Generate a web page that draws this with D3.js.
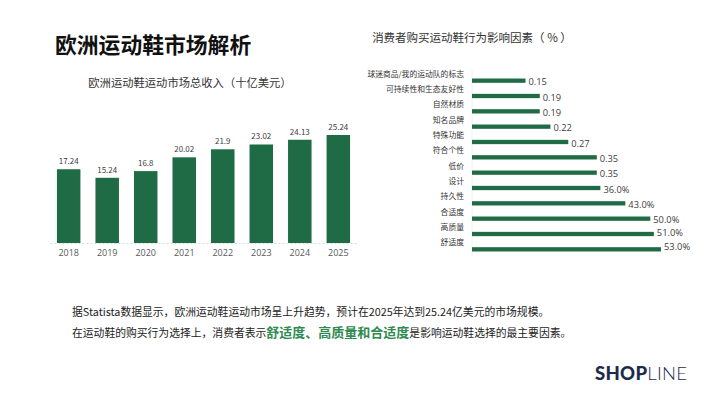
<!DOCTYPE html>
<html>
<head>
<meta charset="utf-8">
<script src="https://cdn.jsdelivr.net/npm/d3@7"></script>
<style>
  body { margin: 0; background: #fff; }
  svg { display: block; font-family: "Noto Sans CJK SC", "Noto Sans", sans-serif; }
</style>
</head>
<body>
<div id="chart"></div>
<script>
const width = 710;
const height = 399;

// revenue chart data
const years = ["2018", "2019", "2020", "2021", "2022", "2023", "2024", "2025"];
const revenue = [17.24, 15.24, 16.8, 20.02, 21.9, 23.02, 24.13, 25.24];

// purchase factors data
const factors = ["球迷商品/我的运动队的标志", "可持续性和生态友好性", "自然材质", "知名品牌", "特殊功能",
    "符合个性", "低价", "设计", "持久性", "合适度", "高质量", "舒适度"];
const shares = [0.15, 0.19, 0.19, 0.22, 0.27, 0.35, 0.35, 0.36, 0.43, 0.50, 0.51, 0.53];
const shareLabels = ["0.15", "0.19", "0.19", "0.22", "0.27", "0.35", "0.35", "36.0%", "43.0%", "50.0%", "51.0%", "53.0%"];

const green = '#1e6b45';
const grey = '#595959';

const svg = d3.select('#chart')
    .append('svg')
    .attr('width', width)
    .attr('height', height);

// page title
svg.append('text')
    .attr('x', 55).attr('y', 53)
    .attr('font-size', 21.8)
    .attr('font-weight', 'bold')
    .attr('fill', '#111')
    .text('欧洲运动鞋市场解析');

// ---- left: vertical bars ----
svg.append('text')
    .attr('x', 190).attr('y', 87)
    .attr('text-anchor', 'middle')
    .attr('font-size', 11.3)
    .attr('fill', '#333')
    .text('欧洲运动鞋运动市场总收入（十亿美元）');

const x = d3.scaleBand()
    .domain(years)
    .range([50, 357])
    .paddingInner(0.39)
    .paddingOuter(0.18);

const y = d3.scaleLinear()
    .domain([0, 25.24])
    .range([243, 135]);

const left = svg.append('g');

left.selectAll('.bar')
    .data(revenue)
    .enter().append('rect')
    .attr('class', 'bar')
    .attr('x', (d, i) => x(years[i]))
    .attr('width', x.bandwidth())
    .attr('y', d => y(d))
    .attr('height', d => y(0) - y(d))
    .attr('fill', green);

left.selectAll('.val')
    .data(revenue)
    .enter().append('text')
    .attr('class', 'val')
    .attr('x', (d, i) => x(years[i]) + x.bandwidth() / 2)
    .attr('y', d => y(d) - 5)
    .attr('text-anchor', 'middle')
    .attr('font-size', 8)
    .attr('fill', '#404040')
    .text(d => d);

const xAxis = left.append('g')
    .attr('transform', `translate(0, ${y(0)})`)
    .call(d3.axisBottom(x).tickSize(0).tickPadding(7));
xAxis.select('.domain')
    .attr('stroke', '#d9d9d9')
    .attr('stroke-dasharray', '2,2');
xAxis.selectAll('text')
    .attr('font-size', 9)
    .attr('fill', grey)
    .attr('font-family', '"Open Sans", "Noto Sans", sans-serif');

// ---- right: horizontal bars ----
svg.append('text')
    .attr('x', 472).attr('y', 42)
    .attr('text-anchor', 'middle')
    .attr('font-size', 11.5)
    .attr('fill', '#333')
    .text('消费者购买运动鞋行为影响因素（ % ）');

const hy = d3.scaleBand()
    .domain(factors)
    .range([73, 257])
    .paddingInner(0.72)
    .paddingOuter(0.36);

const hx = d3.scaleLinear()
    .domain([0, 0.53])
    .range([472, 661]);

const right = svg.append('g');

right.append('line')
    .attr('x1', hx(0)).attr('x2', hx(0))
    .attr('y1', 70).attr('y2', 256)
    .attr('stroke', '#f0f0f0');

right.selectAll('.hbar')
    .data(shares)
    .enter().append('rect')
    .attr('class', 'hbar')
    .attr('x', hx(0))
    .attr('y', (d, i) => hy(factors[i]))
    .attr('width', d => hx(d) - hx(0))
    .attr('height', hy.bandwidth())
    .attr('fill', green);

right.selectAll('.cat')
    .data(factors)
    .enter().append('text')
    .attr('class', 'cat')
    .attr('x', 464)
    .attr('y', d => hy(d) - 2)
    .attr('text-anchor', 'end')
    .attr('font-size', 7.8)
    .attr('fill', '#333')
    .text(d => d);

// the last two labels sit a bit higher so they don't collide
const nudge = i => i === factors.length - 1 ? 0.5 : (i === factors.length - 2 ? 1.5 : 4.5);

right.selectAll('.hval')
    .data(shares)
    .enter().append('text')
    .attr('class', 'hval')
    .attr('x', d => hx(d) + 3)
    .attr('y', (d, i) => hy(factors[i]) + hy.bandwidth() / 2 + nudge(i))
    .attr('font-size', 9.3)
    .attr('fill', '#404040')
    .attr('font-family', '"Open Sans", "Noto Sans", sans-serif')
    .text((d, i) => shareLabels[i]);

// ---- bottom notes ----
svg.append('text')
    .attr('x', 72).attr('y', 316)
    .attr('font-size', 10.8)
    .attr('fill', '#222')
    .text('据Statista数据显示，欧洲运动鞋运动市场呈上升趋势，预计在2025年达到25.24亿美元的市场规模。');

const line2 = svg.append('text')
    .attr('x', 72).attr('y', 337)
    .attr('font-size', 10.8)
    .attr('fill', '#222');
line2.append('tspan').text('在运动鞋的购买行为选择上，消费者表示');
line2.append('tspan')
    .attr('font-size', 13)
    .attr('font-weight', 'bold')
    .attr('fill', '#2e8a50')
    .text('舒适度、高质量和合适度');
line2.append('tspan').text('是影响运动鞋选择的最主要因素。');

// ---- logo ----
const logo = svg.append('text')
    .attr('x', 595).attr('y', 380)
    .attr('font-size', 18.5)
    .attr('letter-spacing', 0.3)
    .attr('fill', '#1c2b4b')
    .attr('font-family', 'Lato, "Open Sans", sans-serif');
logo.append('tspan').attr('font-weight', 900).text('SHOP');
logo.append('tspan').attr('font-weight', 300).text('LINE');
</script>
</body>
</html>
